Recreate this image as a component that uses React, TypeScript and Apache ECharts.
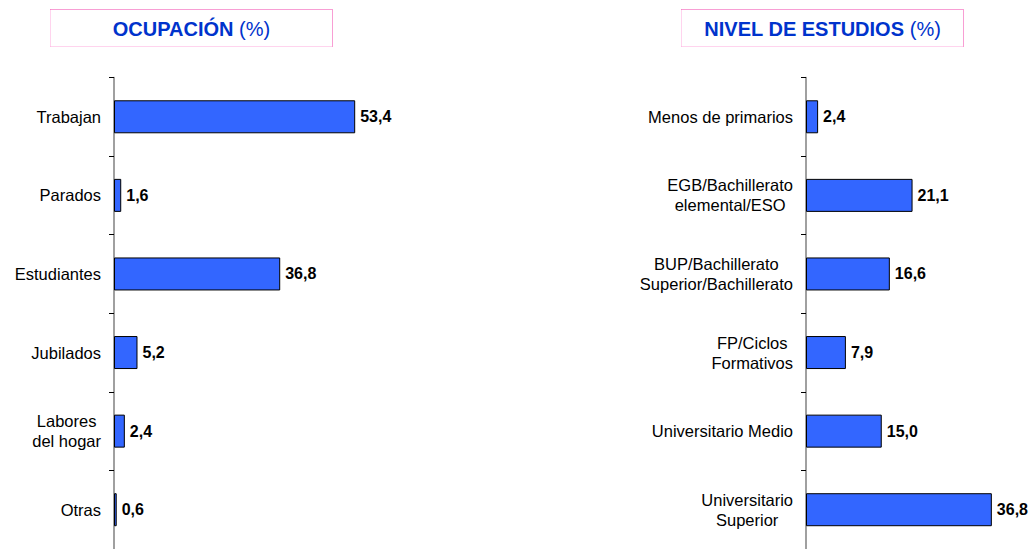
import React, { useEffect, useRef } from "react";
import * as echarts from "echarts";

const occupationCategories = ["Trabajan", "Parados", "Estudiantes", "Jubilados", "Labores\ndel hogar", "Otras"];
const occupationValues = [53.4, 1.6, 36.8, 5.2, 2.4, 0.6];

const studiesCategories = [
  "Menos de primarios",
  "EGB/Bachillerato\nelemental/ESO",
  "BUP/Bachillerato\nSuperior/Bachillerato",
  "FP/Ciclos\nFormativos",
  "Universitario Medio",
  "Universitario\nSuperior",
];
const studiesValues = [2.4, 21.1, 16.6, 7.9, 15.0, 36.8];

const titleLeft = "OCUPACIÓN";
const titleRight = "NIVEL DE ESTUDIOS";

const FONT = "Arial, 'Liberation Sans', sans-serif";
const BAR = "#3366FF";
const TITLE_BLUE = "#0033CC";
const PINK_DARK = "#f03ca8";
const PINK_LIGHT = "#ffa8dc";

function centeredLines(v: string) {
  return v
    .split("\n")
    .map((l) => "{c|" + l + "}")
    .join("\n");
}

function dottedBox(x: number, y: number, w: number, h: number) {
  const line = (x1: number, y1: number, x2: number, y2: number, color: string) => ({
    type: "line",
    shape: { x1, y1, x2, y2 },
    style: { stroke: color, lineWidth: 1, lineDash: [1, 1] },
  });
  return [
    { type: "rect", shape: { x, y, width: w, height: h }, style: { fill: "#fff" } },
    line(x, y + h, x + w, y + h, PINK_LIGHT),
    line(x, y, x, y + h, PINK_LIGHT),
    line(x, y, x + w, y, PINK_DARK),
    line(x + w, y, x + w, y + h, PINK_DARK),
  ];
}

function titleText(x: number, main: string) {
  return {
    type: "text",
    x,
    y: 29,
    style: {
      text: "{b|" + main + "} {n|(%)}",
      verticalAlign: "middle",
      align: "center",
      fontFamily: FONT,
      fontSize: 20,
      fill: TITLE_BLUE,
      rich: {
        b: { fontWeight: "bold", fontSize: 20, fontFamily: FONT, color: TITLE_BLUE },
        n: { fontWeight: "normal", fontSize: 20, fontFamily: FONT, color: TITLE_BLUE },
      },
    },
  };
}

export default function App() {
  const ref = useRef<HTMLDivElement>(null);
  useEffect(() => {
    if (!ref.current) return;
    const chart = echarts.init(ref.current, null, { renderer: "svg" });
    const yAxisBase = (cats: string[], gridIndex: number) => ({
      type: "category" as const,
      gridIndex,
      data: cats,
      inverse: true,
      axisLine: { show: true, lineStyle: { color: "#808080", width: 1.5 } },
      axisTick: { show: true, length: 5, lineStyle: { color: "#000", width: 1 } },
      axisLabel: {
        margin: 13,
        color: "#000",
        fontSize: 16.5,
        fontFamily: FONT,
        lineHeight: 20,
        formatter: (v: string) => centeredLines(v),
        rich: { c: { align: "center", fontSize: 16.5, fontFamily: FONT, color: "#000", lineHeight: 20 } },
      },
      splitLine: { show: false },
    });
    const xAxisBase = (gridIndex: number, max: number) => ({
      type: "value" as const,
      gridIndex,
      min: 0,
      max,
      show: false,
    });
    const seriesBase = (data: number[], idx: number) => ({
      type: "bar" as const,
      xAxisIndex: idx,
      yAxisIndex: idx,
      data,
      barWidth: 33,
      itemStyle: { color: BAR, borderColor: "#000", borderWidth: 1 },
      label: {
        show: true,
        position: "right" as const,
        distance: 5,
        color: "#000",
        fontWeight: "bold" as const,
        fontSize: 16,
        fontFamily: FONT,
        formatter: (p: any) => Number(p.value).toFixed(1).replace(".", ","),
      },
    });
    chart.setOption({
      animation: false,
      backgroundColor: "#fff",
      grid: [
        { left: 114, top: 77.5, width: 271, height: 474 },
        { left: 806, top: 77.5, width: 202, height: 474 },
      ],
      xAxis: [xAxisBase(0, 60), xAxisBase(1, 40)],
      yAxis: [yAxisBase(occupationCategories, 0), yAxisBase(studiesCategories, 1)],
      series: [seriesBase(occupationValues, 0), seriesBase(studiesValues, 1)],
      graphic: [
        ...dottedBox(50.5, 9.5, 282, 37),
        ...dottedBox(681.5, 9.5, 282, 37),
        titleText(191.5, titleLeft),
        titleText(822.5, titleRight),
      ],
    });
    return () => chart.dispose();
  }, []);
  return (
    <div
      ref={ref}
      style={{ position: "absolute", left: 0, top: 0, width: 1033, height: 549 }}
    />
  );
}
